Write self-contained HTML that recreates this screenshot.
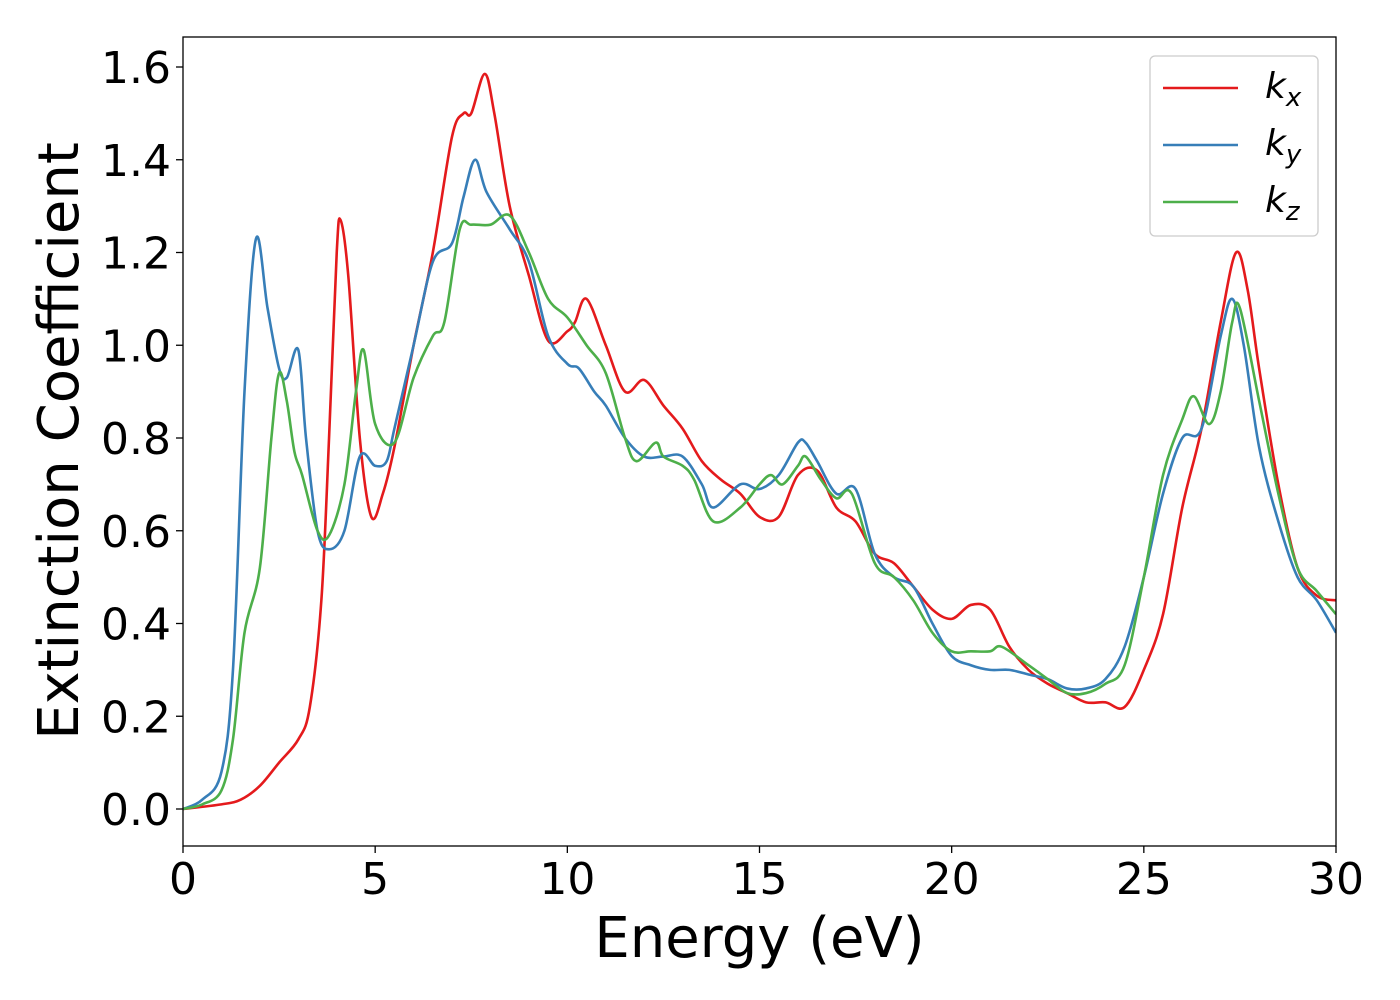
<!DOCTYPE html>
<html><head><meta charset="utf-8"><style>
html,body{margin:0;padding:0;background:#fff;}
svg{display:block;font-family:"DejaVu Sans","Liberation Sans",sans-serif;}
</style></head><body>
<svg id="chart" width="1400" height="1000"></svg>
<script>
const kxE=[0,1,1.5,2,2.5,3,3.3,3.6,3.8,4.0,4.1,4.3,4.6,4.9,5.2,5.5,6,6.5,7,7.3,7.5,7.85,8.1,8.5,9,9.5,10,10.2,10.5,11,11.5,12,12.5,13,13.5,14,14.5,15,15.5,16,16.5,17,17.5,18,18.5,19,19.5,20,20.5,21,21.5,22,22.5,23,23.5,24,24.5,25,25.5,26,26.5,27,27.4,27.7,28,28.5,29,29.5,30];
const kxV=[0,0.01,0.02,0.05,0.1,0.15,0.22,0.45,0.8,1.2,1.27,1.15,0.8,0.63,0.68,0.78,1.0,1.2,1.45,1.5,1.5,1.585,1.5,1.3,1.15,1.01,1.03,1.05,1.1,1.0,0.9,0.925,0.87,0.82,0.75,0.71,0.68,0.63,0.63,0.72,0.73,0.65,0.62,0.55,0.53,0.48,0.43,0.41,0.44,0.43,0.35,0.3,0.27,0.25,0.23,0.23,0.22,0.3,0.42,0.65,0.82,1.05,1.2,1.12,0.95,0.7,0.52,0.46,0.45];
const kyE=[0,0.5,1,1.3,1.6,1.9,2.2,2.5,2.7,3.0,3.2,3.5,3.8,4.2,4.6,5,5.3,5.5,6,6.5,7,7.3,7.6,7.9,8.5,9,9.5,10,10.3,10.7,11,11.5,12,12.5,13,13.5,13.8,14.5,15,15.5,16,16.2,16.5,17,17.5,18,18.5,19,19.5,20,20.5,21,21.5,22,22.5,23,23.5,24,24.5,25,25.5,26,26.5,27,27.3,27.6,28,28.5,29,29.5,30];
const kyV=[0,0.02,0.08,0.3,0.9,1.23,1.08,0.95,0.93,0.99,0.8,0.6,0.56,0.6,0.76,0.74,0.75,0.82,1.0,1.18,1.22,1.32,1.4,1.33,1.25,1.18,1.02,0.96,0.95,0.9,0.87,0.8,0.76,0.76,0.76,0.7,0.65,0.7,0.69,0.72,0.79,0.79,0.75,0.68,0.69,0.55,0.5,0.48,0.4,0.33,0.31,0.3,0.3,0.29,0.28,0.26,0.26,0.28,0.35,0.5,0.68,0.8,0.82,1.02,1.1,1.0,0.78,0.62,0.5,0.45,0.38];
const kzE=[0,0.5,1,1.3,1.6,2,2.3,2.5,2.7,2.9,3.1,3.5,3.8,4.2,4.5,4.7,5,5.5,6,6.5,6.8,7.2,7.5,8,8.5,9,9.5,10,10.5,11,11.5,11.8,12.3,12.5,13,13.3,13.8,14.5,15,15.3,15.6,16,16.2,16.6,17,17.4,18,18.5,19,19.5,20,20.5,21,21.3,22,22.5,23,23.5,24,24.5,25,25.5,26,26.3,26.7,27,27.3,27.5,28,28.5,29,29.5,30];
const kzV=[0,0.01,0.04,0.15,0.38,0.52,0.8,0.94,0.88,0.77,0.72,0.6,0.59,0.7,0.9,0.99,0.83,0.79,0.93,1.02,1.05,1.25,1.26,1.26,1.28,1.2,1.1,1.06,1.0,0.94,0.8,0.75,0.79,0.76,0.74,0.71,0.62,0.65,0.7,0.72,0.7,0.74,0.76,0.71,0.67,0.68,0.53,0.5,0.45,0.38,0.34,0.34,0.34,0.35,0.31,0.28,0.25,0.25,0.27,0.31,0.5,0.72,0.84,0.89,0.83,0.9,1.05,1.08,0.88,0.68,0.52,0.47,0.42];
const xTicks=[0,5,10,15,20,25,30];
const yTicks=[0.0,0.2,0.4,0.6,0.8,1.0,1.2,1.4,1.6];

const L=183,R=1336,T=37,B=846;
const X=v=>L+(v-0)/30*(R-L);
const Y=v=>809-v*463.75;
const NS='http://www.w3.org/2000/svg';
const svg=document.getElementById('chart');
function mk(tag,attrs,parent){const e=document.createElementNS(NS,tag);for(const k in attrs)e.setAttribute(k,attrs[k]);(parent||svg).appendChild(e);return e;}

const clip=mk('clipPath',{id:'clip'});mk('rect',{x:L,y:T,width:R-L,height:B-T},clip);

function pathFor(E,V){
  const p=E.map((e,i)=>[X(e),Y(V[i])]);
  let d='M'+p[0][0]+','+p[0][1];
  for(let i=0;i<p.length-1;i++){
    const p0=p[Math.max(0,i-1)],p1=p[i],p2=p[i+1],p3=p[Math.min(p.length-1,i+2)];
    const c1=[p1[0]+(p2[0]-p0[0])/6,p1[1]+(p2[1]-p0[1])/6];
    const c2=[p2[0]-(p3[0]-p1[0])/6,p2[1]-(p3[1]-p1[1])/6];
    d+=' C'+c1[0]+','+c1[1]+' '+c2[0]+','+c2[1]+' '+p2[0]+','+p2[1];
  }
  return d;
}
const series=[[kxE,kxV,'#e41a1c','kx-line'],[kyE,kyV,'#377eb8','ky-line'],[kzE,kzV,'#4daf4a','kz-line']];
series.forEach(s=>{
  const el=mk('path',{d:pathFor(s[0],s[1]),fill:'none',stroke:s[2],'stroke-width':2.6,'clip-path':'url(#clip)'});
  
  
});

const frame=mk('rect',{x:L,y:T,width:R-L,height:B-T,fill:'none',stroke:'#000','stroke-width':1.3});



xTicks.forEach(t=>{
  mk('line',{x1:X(t),x2:X(t),y1:B,y2:B+7,stroke:'#000','stroke-width':1.3});
  const tx=mk('text',{x:X(t),y:B+48,'text-anchor':'middle','font-size':44});
  tx.textContent=t;
  
  
});
yTicks.forEach(t=>{
  mk('line',{x1:L-7,x2:L,y1:Y(t),y2:Y(t),stroke:'#000','stroke-width':1.3});
  const tx=mk('text',{x:L-12,y:Y(t)+16,'text-anchor':'end','font-size':44});
  tx.textContent=t.toFixed(1);
  
  
});
const xt=mk('text',{x:(L+R)/2,y:957,'text-anchor':'middle','font-size':56});
xt.textContent='Energy (eV)';


const yt=mk('text',{x:0,y:0,'text-anchor':'middle','font-size':56,transform:'translate(78,441) rotate(-90)'});
yt.textContent='Extinction Coefficient';



const lg=mk('g',{});


mk('rect',{x:1150,y:56,width:168,height:180,rx:5,fill:'#fff','fill-opacity':0.8,stroke:'#ccc','stroke-width':1.3},lg);
const subs=['x','y','z'];
series.forEach((s,i)=>{
  const y=88+i*57;
  const ln=mk('line',{x1:1163,x2:1238,y1:y,y2:y,stroke:s[2],'stroke-width':2.6},lg);
  
  
  const t=mk('text',{x:1265,y:y+10,'font-size':36,'font-style':'italic'},lg);
  
  
  t.textContent='k';
  const ts=mk('tspan',{'font-size':26,dy:8},t);
  ts.textContent=subs[i];
});
</script>
</body></html>
